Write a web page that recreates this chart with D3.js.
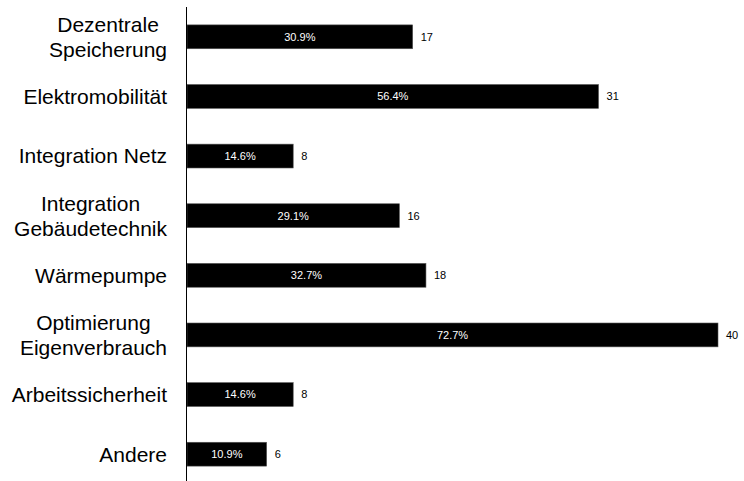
<!DOCTYPE html>
<html>
<head>
<meta charset="utf-8">
<script src="https://cdn.jsdelivr.net/npm/d3@7"></script>
<style>
  body { margin: 0; background: #fff; }
  text { font-family: "Liberation Sans", Arial, sans-serif; }
</style>
</head>
<body>
<div id="chart"></div>
<script>
// data
var categories = [["Dezentrale", "Speicherung"], ["Elektromobilität"], ["Integration Netz"],
  ["Integration", "Gebäudetechnik"], ["Wärmepumpe"], ["Optimierung", "Eigenverbrauch"],
  ["Arbeitssicherheit"], ["Andere"]];
var counts = [17, 31, 8, 16, 18, 40, 8, 6];
var percents = ["30.9%", "56.4%", "14.6%", "29.1%", "32.7%", "72.7%", "14.6%", "10.9%"];

var margin = {top: 7, right: 26, bottom: 0, left: 187},
    width = 744 - margin.left - margin.right,
    height = 481 - margin.top - margin.bottom;

var svg = d3.select("#chart")
  .append("svg")
  .attr("width", 744)
  .attr("height", 481)
  .append("g")
    .attr("transform", "translate(" + margin.left + "," + margin.top + ")");

var idx = d3.range(counts.length);

var x = d3.scaleLinear()
  .domain([0, 40])
  .range([0, 531]);

var y = d3.scaleBand()
  .domain(idx)
  .range([0, 477])
  .paddingInner(0.6)
  .paddingOuter(0.3);

// bars
svg.selectAll("rect.bar")
  .data(idx)
  .enter()
  .append("rect")
  .attr("class", "bar")
  .attr("x", 0)
  .attr("y", function(i) { return y(i); })
  .attr("width", function(i) { return x(counts[i]); })
  .attr("height", y.bandwidth())
  .style("fill", "#000")
  .style("stroke", "#555")
  .style("stroke-width", 0.6);

// percentage inside the bar
svg.selectAll("text.pct")
  .data(idx)
  .enter()
  .append("text")
  .attr("class", "pct")
  .attr("x", function(i) { return x(counts[i]) / 2; })
  .attr("y", function(i) { return y(i) + y.bandwidth() / 2; })
  .attr("dy", "0.35em")
  .style("text-anchor", "middle")
  .style("font-size", "11px")
  .style("fill", "#fff")
  .text(function(i) { return percents[i]; });

// counts at bar end
svg.selectAll("text.cnt")
  .data(idx)
  .enter()
  .append("text")
  .attr("class", "cnt")
  .attr("x", function(i) { return x(counts[i]) + 8; })
  .attr("y", function(i) { return y(i) + y.bandwidth() / 2; })
  .attr("dy", "0.35em")
  .style("font-size", "11px")
  .style("fill", "#000")
  .text(function(i) { return counts[i]; });

// y axis line
svg.append("line")
  .attr("x1", -0.5).attr("x2", -0.5)
  .attr("y1", 0).attr("y2", height)
  .style("stroke", "#000")
  .style("stroke-width", 1);

// category labels, multi-line centred within their block, right edge fixed
var lineH = 25;
idx.forEach(function(i) {
  var lines = categories[i];
  var g = svg.append("g");
  var cy = y(i) + y.bandwidth() / 2;
  var texts = lines.map(function(l, k) {
    return g.append("text")
      .attr("y", cy + (k - (lines.length - 1) / 2) * lineH)
      .attr("dy", "0.35em")
      .style("font-size", "21px")
      .style("text-anchor", "middle")
      .text(l);
  });
  var maxW = d3.max(texts, function(t) { return t.node().getComputedTextLength(); });
  texts.forEach(function(t) { t.attr("x", -20 - maxW / 2); });
});
</script>
</body>
</html>
